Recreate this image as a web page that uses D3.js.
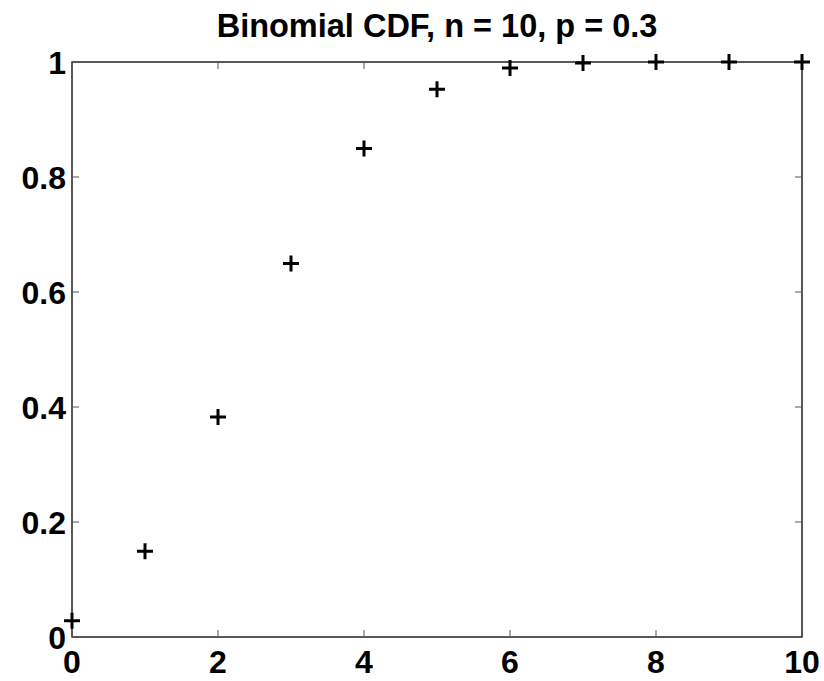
<!DOCTYPE html>
<html>
<head>
<meta charset="utf-8">
<script src="https://cdn.jsdelivr.net/npm/d3@7"></script>
<style>
  body { margin: 0; background: #fff; }
  svg { display: block; }
  text { font-family: "Liberation Sans", Arial, sans-serif; font-weight: bold; fill: #000; }
</style>
</head>
<body>
<svg id="chart" width="824" height="681"></svg>
<script>
// data
var ks = [0, 1, 2, 3, 4, 5, 6, 7, 8, 9, 10];
var cdf = [0.0282, 0.1493, 0.3828, 0.6496, 0.8497, 0.9527, 0.9894, 0.9984, 0.9999, 1.0, 1.0];
var xTicks = [0, 2, 4, 6, 8, 10];
var yTicks = [0, 0.2, 0.4, 0.6, 0.8, 1];
var title = "Binomial CDF, n = 10, p = 0.3";

var width = 824, height = 681;
var margin = {top: 62, right: 22, bottom: 44, left: 72};

var svg = d3.select('#chart');

var x = d3.scaleLinear().domain([0, 10]).range([margin.left, width - margin.right]);
var y = d3.scaleLinear().domain([0, 1]).range([height - margin.bottom, margin.top]);

var tickLen = 7;

// frame
svg.append('rect')
  .attr('x', x(0)).attr('y', y(1))
  .attr('width', x(10) - x(0)).attr('height', y(0) - y(1))
  .attr('fill', 'none').attr('stroke', '#000').attr('stroke-width', 1.3);

// ticks inside, on all four sides
var ticks = svg.append('g').attr('stroke', '#555').attr('stroke-width', 1);
xTicks.forEach(function (t) {
  ticks.append('line').attr('x1', x(t)).attr('x2', x(t))
    .attr('y1', y(0)).attr('y2', y(0) - tickLen);
  ticks.append('line').attr('x1', x(t)).attr('x2', x(t))
    .attr('y1', y(1)).attr('y2', y(1) + tickLen);
});
yTicks.forEach(function (t) {
  ticks.append('line').attr('x1', x(0)).attr('x2', x(0) + tickLen)
    .attr('y1', y(t)).attr('y2', y(t));
  ticks.append('line').attr('x1', x(10)).attr('x2', x(10) - tickLen)
    .attr('y1', y(t)).attr('y2', y(t));
});

// tick labels
svg.append('g').selectAll('text')
  .data(xTicks)
  .enter()
  .append('text')
  .attr('x', function (d) { return x(d); })
  .attr('y', y(0) + 36)
  .attr('text-anchor', 'middle')
  .style('font-size', '32px')
  .text(function (d) { return d; });

svg.append('g').selectAll('text')
  .data(yTicks)
  .enter()
  .append('text')
  .attr('x', x(0) - 6)
  .attr('y', function (d) { return y(d); })
  .attr('dy', '0.36em')
  .attr('text-anchor', 'end')
  .style('font-size', '32px')
  .text(function (d) { return d3.format('~g')(d); });

// title
svg.append('text')
  .attr('x', (x(0) + x(10)) / 2)
  .attr('y', 37)
  .attr('text-anchor', 'middle')
  .style('font-size', '32.5px')
  .text(title);

// plus markers
var pts = ks.map(function (k, i) { return {k: k, v: cdf[i]}; });
var s = 8;
svg.append('g')
  .attr('stroke', '#000')
  .attr('stroke-width', 3)
  .selectAll('path')
  .data(pts)
  .enter()
  .append('path')
  .attr('d', function (d) {
    var cx = x(d.k), cy = y(d.v);
    return 'M' + (cx - s) + ',' + cy + 'H' + (cx + s) + 'M' + cx + ',' + (cy - s) + 'V' + (cy + s);
  });
</script>
</body>
</html>
